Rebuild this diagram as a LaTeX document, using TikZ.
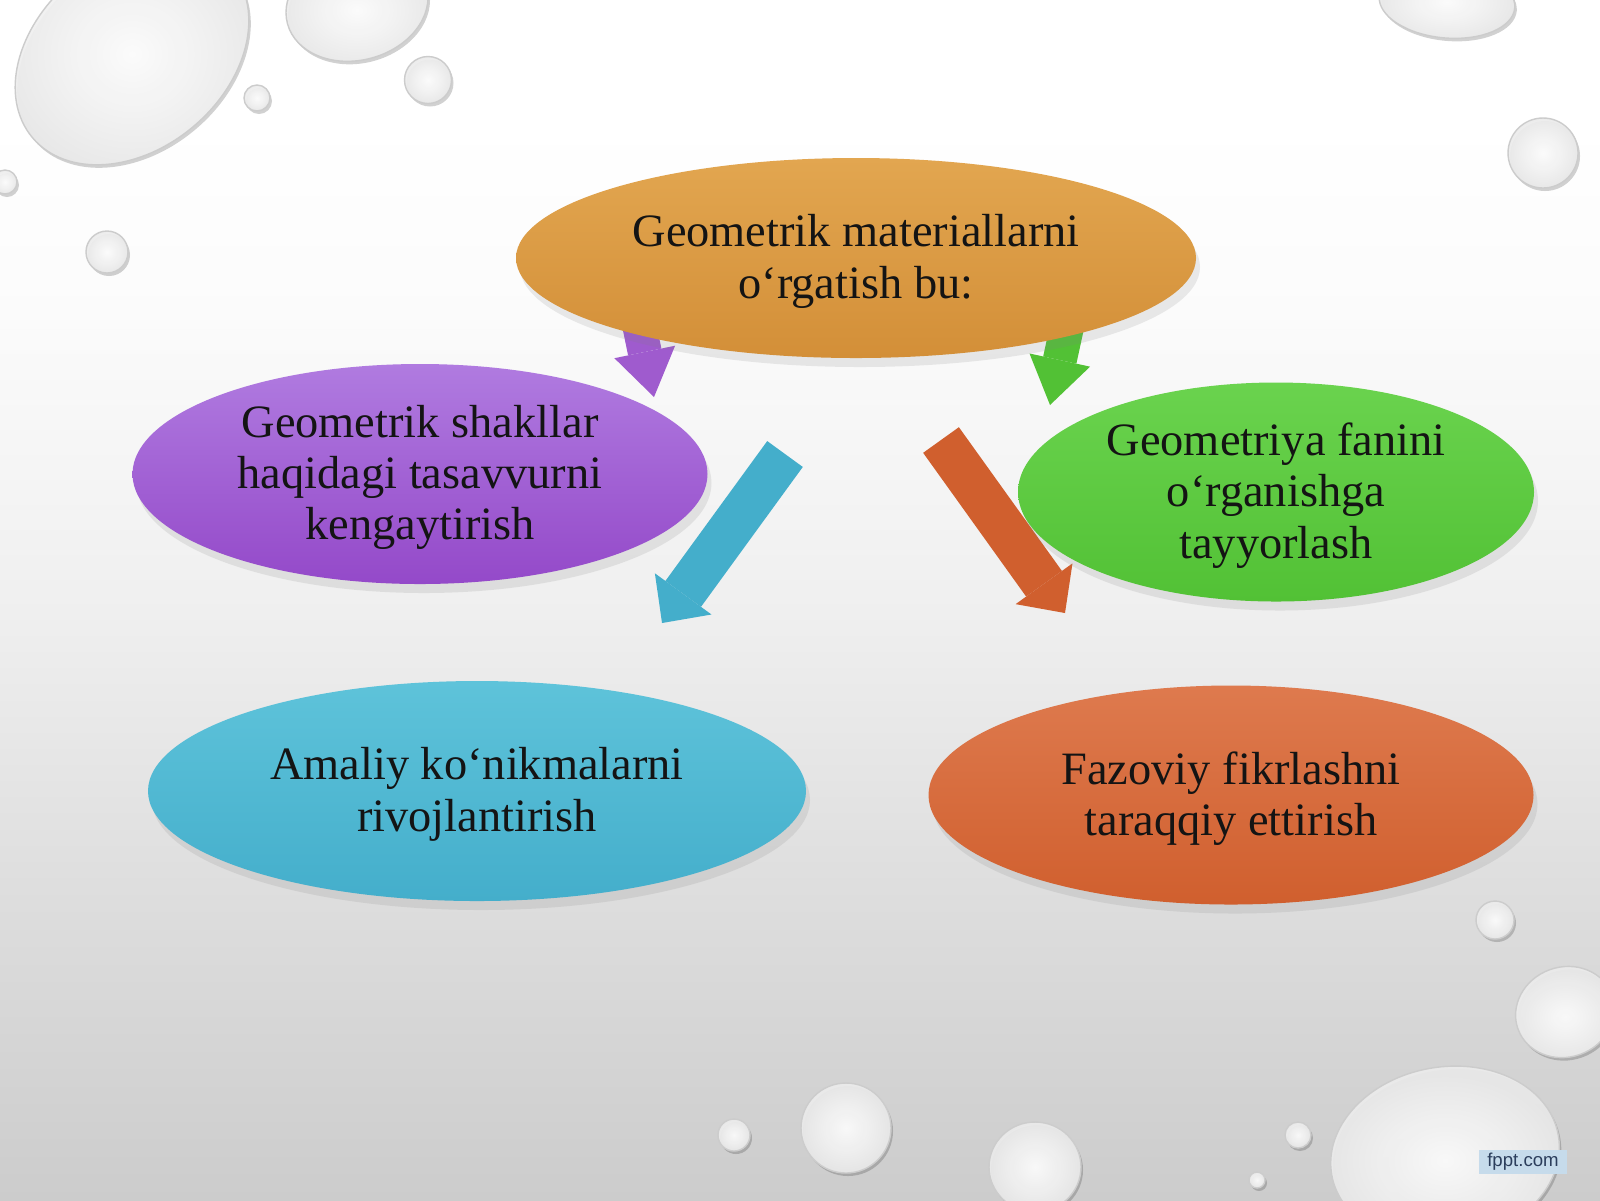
\documentclass[tikz,border=0pt]{standalone}
\usepackage{fontspec}
\setmainfont{Liberation Serif}
\newfontfamily\logofont{Liberation Sans}
\usetikzlibrary{shapes.geometric,arrows.meta,shadows}
\definecolor{goldL}{HTML}{E2A650}
\definecolor{goldD}{HTML}{D38F38}
\definecolor{lilacL}{HTML}{B07BE0}
\definecolor{lilacD}{HTML}{9449C9}
\definecolor{leafL}{HTML}{6AD34E}
\definecolor{leafD}{HTML}{52C135}
\definecolor{skyL}{HTML}{5EC3DA}
\definecolor{skyD}{HTML}{44AECB}
\definecolor{rustL}{HTML}{DE7A4E}
\definecolor{rustD}{HTML}{D05F2E}
\definecolor{logoblue}{HTML}{C6DBEB}
\definecolor{logotext}{HTML}{2C3E5C}
\pgfdeclarelayer{bg}
\pgfdeclarelayer{back}
\pgfsetlayers{bg,back,main}
\pgfdeclareverticalshading{slidebg}{100bp}{color(0bp)=(gray!40); color(25bp)=(gray!40); color(38bp)=(gray!26); color(50bp)=(gray!12); color(62bp)=(gray!3); color(70bp)=(white); color(100bp)=(white)}
\begin{document}
\begin{tikzpicture}
	[x=1cm,y=-1cm,
	bubble/.style={ellipse,inner sep=0pt,align=center,text=black!92,text depth=.9pt,
		font=\fontsize{13.2}{14.6}\selectfont,
		drop shadow={opacity=.16,shadow xshift=.4mm,shadow yshift=-.9mm}},
	fatarrow/.style={line width=4.4mm,-{Triangle[width=7mm,length=3.6mm,line width=0pt]}},
	thinarrow/.style={line width=3.4mm,-{Triangle[width=6.2mm,length=4.6mm,line width=0pt]}},
	logo/.style={fill=logoblue,text=logotext,inner xsep=.8mm,inner ysep=.35mm,
		font=\logofont\fontsize{5.3}{6}\selectfont}
	]
	\useasboundingbox (0,0) rectangle (16,12);
	\begin{pgfonlayer}{bg}
		\shade[shading=slidebg] (0,0) rectangle (16,12);
		\begin{scope}
			\clip (0,0) rectangle (16,12);
			\foreach \x/\y/\a/\b/\r in {1.32/0.54/1.30/0.95/40, 3.57/0.05/0.72/0.55/15,
				2.57/0.98/0.13/0.13/0, 4.28/0.80/0.235/0.235/0, 1.07/2.52/0.21/0.21/0,
				0.05/1.82/0.12/0.12/0, 14.47/0.02/0.68/0.36/-5, 15.43/1.53/0.35/0.35/0,
				14.95/9.20/0.19/0.19/0, 15.65/10.12/0.50/0.45/20, 14.45/11.55/1.15/0.88/10,
				12.98/11.35/0.13/0.13/0, 7.34/11.35/0.16/0.16/0, 8.46/11.28/0.45/0.45/0,
				10.35/11.67/0.46/0.45/0, 12.57/11.80/0.08/0.08/0}
			{
				\fill[black,opacity=.18,rotate around={\r:(\x+.02,\y+.03)}]
					(\x+.02,\y+.03) ellipse [x radius=\a,y radius=\b];
				\shade[inner color=white,outer color=gray!16,opacity=.92,rotate around={\r:(\x,\y)}]
					(\x,\y) ellipse [x radius=\a,y radius=\b];
				\draw[gray!40,line width=.4pt,rotate around={\r:(\x,\y)}]
					(\x,\y) ellipse [x radius=\a,y radius=\b];
			}
		\end{scope}
	\end{pgfonlayer}

	\node[bubble,minimum width=6.8cm,minimum height=2cm,top color=goldL,bottom color=goldD]
		(goal) at (8.56,2.58) {Geometrik materiallarni\\o‘rgatish bu:};
	\node[bubble,minimum width=5.75cm,minimum height=2.2cm,top color=lilacL,bottom color=lilacD]
		(shapes) at (4.20,4.74) {Geometrik shakllar\\haqidagi tasavvurni\\kengaytirish};
	\node[bubble,minimum width=5.16cm,minimum height=2.19cm,top color=leafL,bottom color=leafD]
		(ready) at (12.76,4.92) {Geometriya fanini\\o‘rganishga\\tayyorlash};
	\node[bubble,minimum width=6.58cm,minimum height=2.2cm,top color=skyL,bottom color=skyD]
		(skills) at (4.77,7.91) {Amaliy ko‘nikmalarni\\rivojlantirish};
	\node[bubble,minimum width=6.05cm,minimum height=2.19cm,top color=rustL,bottom color=rustD]
		(space) at (12.31,7.95) {Fazoviy fikrlashni\\taraqqiy ettirish};

	\coordinate (lilacTail) at (6.32,2.90);
	\coordinate (lilacTip) at (6.54,3.97);
	\coordinate (leafTail) at (10.75,2.90);
	\coordinate (leafTip) at (10.50,4.05);
	\coordinate (skyTail) at (7.85,4.54);
	\coordinate (skyTip) at (6.62,6.23);
	\coordinate (rustTail) at (9.41,4.40);
	\coordinate (rustTip) at (10.65,6.13);
	\begin{pgfonlayer}{back}
		\draw[thinarrow,draw=lilacD!90] (lilacTail) -- (lilacTip);
		\draw[thinarrow,draw=leafD] (leafTail) -- (leafTip);
		\draw[fatarrow,draw=skyD] (skyTail) -- (skyTip);
		\draw[fatarrow,draw=rustD] (rustTail) -- (rustTip);
	\end{pgfonlayer}

	\node[logo] (fppt) at (15.23,11.62) {fppt.com};
\end{tikzpicture}
\end{document}
